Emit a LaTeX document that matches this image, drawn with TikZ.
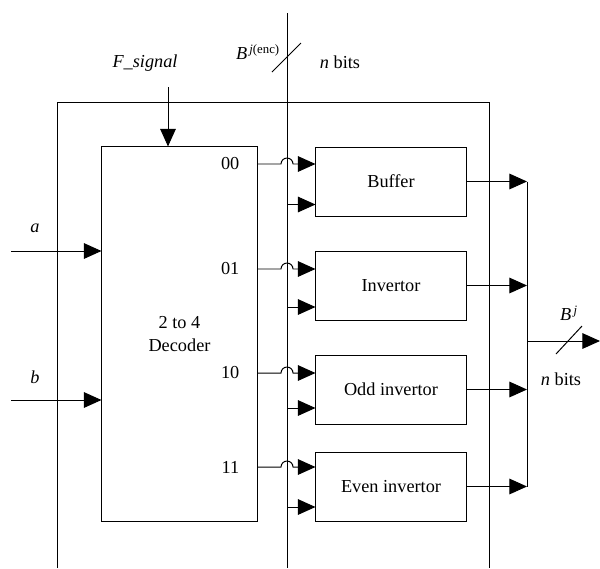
\documentclass[tikz,border=0pt]{standalone}
\usepackage{fontspec}
\setmainfont{Liberation Serif}
\usetikzlibrary{arrows.meta, calc}

\begin{document}
\begin{tikzpicture}[
    x=0.025cm,
    y=0.025cm,
    font=\fontsize{13}{15.6}\selectfont,
    wire/.style={
        line width=0.7pt,
    },
    signal/.style={
        wire,
        -{Triangle[length=4.4mm, width=3.9mm]},
    },
    block/.style={
        rectangle,
        draw,
        line width=0.7pt,
        minimum width=3.75cm,
        minimum height=1.725cm,
        inner sep=0pt,
    },
    port/.style={
        anchor=east,
        inner sep=1pt,
    },
    hop/.style={
        radius=0.15cm,
        start angle=180,
        end angle=0,
    }
]
    \useasboundingbox (0,0) rectangle (600,-568);

    % Enclosing frame (open at the bottom)
    \draw[wire] (57,-568) -- (57,-102) -- (489,-102) -- (489,-568);

    % Decoder
    \node[block, minimum width=3.875cm, minimum height=9.35cm, align=center]
        (dec) at (179.5,-334) {2 to 4\\[1pt]Decoder};
    \node[port] (p00) at (241,-164) {00};
    \node[port] (p01) at (241,-269) {01};
    \node[port] (p10) at (241,-373) {10};
    \node[port] (p11) at (241,-467) {11};

    % Function blocks
    \node[block] (buffer)  at (391,-181.5) {Buffer};
    \node[block] (invert)  at (391,-285.5) {Invertor};
    \node[block] (oddinv)  at (391,-389.5) {Odd invertor};
    \node[block] (eveninv) at (391,-486.5) {Even invertor};

    % Inputs
    \coordinate (ain) at (11,-251);
    \coordinate (bin) at (11,-400);
    \coordinate (fsig) at (168,-87);
    \node (alabel) at (35,-228) {\textit{a}};
    \node (blabel) at (35,-377) {\textit{b}};
    \node (flabel) at (145,-63) {\textit{F\_signal}};
    \draw[signal] (ain) -- (dec.west |- ain);
    \draw[signal] (bin) -- (dec.west |- bin);
    \draw[signal] (fsig) -- (fsig |- dec.north);

    % Encoded data bus
    \coordinate (bus) at (287,-13);
    \coordinate (busend) at (287,-568);
    \draw[wire] (bus) -- (busend);
    \draw[wire] (272,-72) -- (301,-43);
    \node (enclabel) at (258,-52) {\textit{B}\textsuperscript{\,\textit{j}(enc)}};
    \node (nbits1) at (340,-62) {\textit{n} bits};

    % Decoder outputs hopping over the bus
    \draw[signal] (dec.east |- p00) -- ($(bus |- p00)+(-6,0)$) arc[hop] -- (buffer.west |- p00);
    \draw[signal] (dec.east |- p01) -- ($(bus |- p01)+(-6,0)$) arc[hop] -- (invert.west |- p01);
    \draw[signal] (dec.east |- p10) -- ($(bus |- p10)+(-6,0)$) arc[hop] -- (oddinv.west |- p10);
    \draw[signal] (dec.east |- p11) -- ($(bus |- p11)+(-6,0)$) arc[hop] -- (eveninv.west |- p11);

    % Bus taps
    \coordinate (tap1) at ($(buffer.west)+(0,-23)$);
    \coordinate (tap2) at ($(invert.west)+(0,-21.5)$);
    \coordinate (tap3) at ($(oddinv.west)+(0,-18.5)$);
    \coordinate (tap4) at ($(eveninv.west)+(0,-20.5)$);
    \draw[signal] (bus |- tap1) -- (tap1);
    \draw[signal] (bus |- tap2) -- (tap2);
    \draw[signal] (bus |- tap3) -- (tap3);
    \draw[signal] (bus |- tap4) -- (tap4);

    % Merged output
    \coordinate (merge) at (527,-341);
    \coordinate (out) at (600,-341);
    \draw[signal] (buffer.east) -- (buffer.east -| merge);
    \draw[signal] (invert.east) -- (invert.east -| merge);
    \draw[signal] (oddinv.east) -- (oddinv.east -| merge);
    \draw[signal] (eveninv.east) -- (eveninv.east -| merge);
    \draw[wire] (merge |- buffer.east) -- (merge |- eveninv.east);
    \draw[signal] (merge) -- (out);
    \draw[wire] (556,-354) -- (582,-326);
    \node (outlabel) at (569,-313) {\textit{B}\textsuperscript{\,\textit{j}}};
    \node (nbits2) at (561,-379) {\textit{n} bits};
\end{tikzpicture}
\end{document}
